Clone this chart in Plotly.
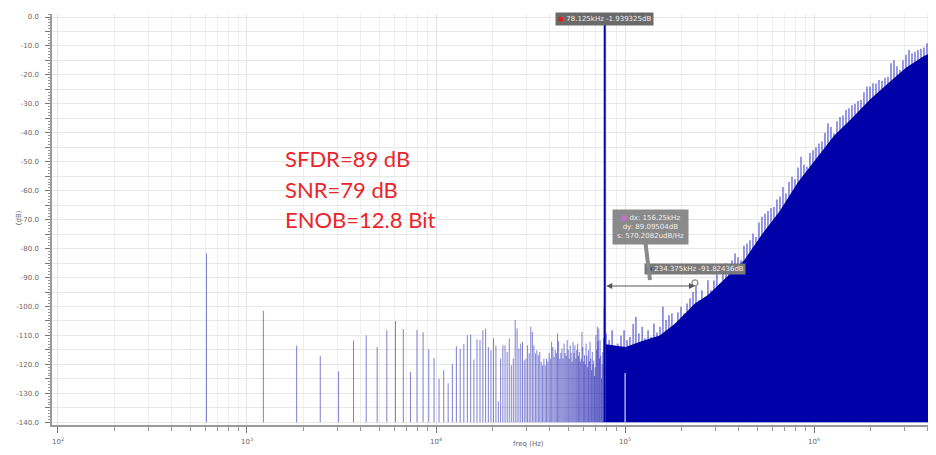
import numpy as np
import plotly.graph_objects as go

# FFT settings: fs = 10 MHz, 16384 points -> bin spacing
BIN_HZ = 10e6 / 16384
FLOOR_DB = -140.0

# bins 1..127 (below the tone), dB
low_bins_db = [
    -81.7, -101.5, -113.5, -117.0, -122.4, -111.8, -110.0, -114.0, -108.2, -105.0,
    -107.8, -122.6, -108.1, -108.9, -114.8, -117.8, -125.0, -122.0, -126.5, -119.9,
    -113.7, -114.6, -113.0, -109.9, -109.7, -118.3, -111.4, -111.6, -108.2, -107.6,
    -114.0, -115.1, -111.0, -113.4, -132.7, -118.0, -113.4, -113.4, -115.7, -111.0,
    -120.3, -118.0, -104.7, -107.6, -114.5, -112.8, -112.2, -118.6, -118.0, -113.4,
    -116.2, -107.0, -108.8, -113.4, -116.2, -115.1, -116.8, -115.7, -119.1, -120.3,
    -118.0, -120.3, -118.0, -119.1, -116.0, -118.0, -112.2, -114.0, -117.4, -115.0,
    -116.0, -109.3, -112.0, -118.0, -116.0, -114.5, -118.0, -112.8, -116.0, -117.0,
    -111.6, -115.0, -118.0, -113.4, -116.0, -119.0, -112.2, -116.0, -113.4, -118.0,
    -115.0, -112.8, -117.0, -115.7, -119.0, -118.0, -108.8, -114.0, -119.0, -116.8,
    -120.0, -112.8, -117.0, -121.0, -115.1, -119.0, -112.2, -118.0, -122.0, -115.7,
    -120.0, -118.6, -124.0, -121.0, -109.9, -115.0, -107.0, -112.0, -107.6, -118.0,
    -111.6, -117.0, -124.9, -120.0, -115.7, -111.0, -100.0,
]
fund_bin = 128
fund_db = -1.939325
h3_khz = 234.375
h3_db = -91.82436

# spikes of the dense noise above the tone (bin index, dB)
hf_spike_bins = [
    130, 135, 140, 145, 150, 156, 162, 168, 174, 181,
    187, 194, 202, 209, 217, 225, 233, 242, 251, 260,
    270, 280, 290, 301, 312, 324, 336, 349, 362, 375,
    389, 403, 418, 434, 450, 467, 484, 502, 521, 540,
    561, 581, 603, 626, 649, 673, 698, 724, 751, 779,
    808, 838, 869, 902, 935, 970, 1006, 1043, 1082, 1123,
    1164, 1208, 1253, 1299, 1348, 1398, 1450, 1504, 1560, 1618,
    1678, 1740, 1805, 1872, 1942, 2014, 2089, 2167, 2248, 2332,
    2418, 2508, 2602, 2699, 2799, 2903, 3011, 3124, 3240, 3360,
    3486, 3615, 3750, 3890, 4034, 4185, 4340, 4502, 4670, 4843,
    5024, 5211, 5405, 5606, 5815, 6031, 6256, 6488, 6730, 6981,
]
hf_spike_db = [
    -109.3, -111.6, -108.2, -114.0, -112.8, -110.0, -108.2, -111.6, -110.5, -106.0,
    -103.6, -109.3, -107.0, -111.0, -108.2, -110.5, -105.9, -109.0, -107.0, -100.0,
    -104.7, -103.0, -102.4, -105.9, -102.0, -100.1, -102.4, -99.0, -97.2, -95.0,
    -93.0, -97.8, -94.4, -96.7, -90.9, -94.4, -91.0, -88.6, -92.1, -87.5,
    -85.1, -87.5, -84.0, -81.7, -83.0, -84.0, -79.0, -78.2, -77.1, -74.8,
    -76.0, -71.0, -69.0, -68.0, -67.0, -66.0, -65.6, -63.0, -62.0, -58.7,
    -61.0, -57.0, -55.2, -56.0, -52.0, -48.3, -51.0, -51.7, -47.0, -46.0,
    -45.0, -43.7, -43.0, -40.0, -36.7, -38.0, -40.2, -36.0, -34.5, -34.0,
    -32.1, -31.5, -30.5, -30.0, -29.0, -28.7, -26.0, -24.1, -24.0, -22.9,
    -23.0, -21.8, -22.0, -21.0, -20.6, -16.0, -14.9, -17.0, -18.3, -14.9,
    -13.0, -11.4, -12.5, -12.0, -11.4, -11.0, -10.5, -9.1, -8.5, -8.0,
]
# solid body of the dense noise (kHz, dB)
hf_body_khz = [79.35, 100.7, 122.1, 152.6, 183.1, 234.4, 274.7, 341.8, 427.2, 531.0,
               659.2, 824.0, 1025, 1276, 1587, 1978, 2460, 3064, 3815, 4272]
hf_body_db = [-113.0, -114.0, -112.0, -110.0, -106.0, -99.0, -96.0, -90.0, -84.0, -75.0,
              -67.0, -57.0, -49.0, -41.0, -35.0, -28.5, -23.0, -17.5, -13.5, -12.0]
# single deep bin inside the dense region
notch_khz = [100.1]
notch_top_db = [-123.0]

DARK = "#0000a8"
LINE = "rgba(0,0,168,0.5)"

fig = go.Figure()


def stems(freqs, levels):
    xs, ys = [], []
    for f, v in zip(freqs, levels):
        xs += [f, f, None]
        ys += [FLOOR_DB, v, None]
    return xs, ys


# individual bins below the tone
xs, ys = stems([k * BIN_HZ for k in range(1, len(low_bins_db) + 1)], low_bins_db)
fig.add_trace(go.Scatter(x=xs, y=ys, mode="lines", line=dict(color=LINE, width=1),
                         hoverinfo="skip", showlegend=False))

# dense region: light spikes, then solid body on top
xs, ys = stems([k * BIN_HZ for k in hf_spike_bins], hf_spike_db)
fig.add_trace(go.Scatter(x=xs, y=ys, mode="lines", line=dict(color="rgba(30,30,195,0.5)", width=1.8),
                         hoverinfo="skip", showlegend=False))
bx = [f * 1e3 for f in hf_body_khz]
fig.add_trace(go.Scatter(x=bx + [bx[-1] * 1.2, bx[-1] * 1.2, bx[0]],
                         y=hf_body_db + [hf_body_db[-1], FLOOR_DB, FLOOR_DB],
                         mode="lines", fill="toself", fillcolor=DARK,
                         line=dict(width=0, color=DARK),
                         hoverinfo="skip", showlegend=False))
for f, v in zip(notch_khz, notch_top_db):
    fig.add_trace(go.Scatter(x=[f * 1e3, f * 1e3], y=[FLOOR_DB, v], mode="lines",
                             line=dict(color="white", width=1), hoverinfo="skip",
                             showlegend=False))

# the tone
f0 = fund_bin * BIN_HZ
fig.add_trace(go.Scatter(x=[f0, f0], y=[FLOOR_DB, fund_db], mode="lines",
                         line=dict(color=DARK, width=2), hoverinfo="skip", showlegend=False))

# marker on the 3rd harmonic
fig.add_trace(go.Scatter(x=[h3_khz * 1e3], y=[h3_db], mode="markers",
                         marker=dict(size=6, color="rgba(0,0,0,0)",
                                     line=dict(color="#888", width=1.2)),
                         hoverinfo="skip", showlegend=False))

tick_font = dict(family="DejaVu Sans", size=7, color="#666")
decades = [2, 3, 4, 5, 6]
x_tickvals = [10 ** d for d in decades]
x_ticktext = [f"10<sup>{d}</sup>" for d in decades]
x_minor = [k * 10 ** d for d in decades for k in range(2, 10)]
y_tickvals = list(range(0, -145, -5))
y_ticktext = [f"{v:.1f}" if v % 10 == 0 else "" for v in y_tickvals]

# page body adds 8px, so the figure is 8px smaller and the margins shifted
fig.update_layout(
    width=928, height=447,
    margin=dict(l=44, r=4, t=6, b=30),
    paper_bgcolor="white", plot_bgcolor="white",
    showlegend=False,
    xaxis=dict(type="log", range=[1.9683, 6.6243], tickvals=x_tickvals, ticktext=x_ticktext,
               showgrid=True, gridcolor="#e4e4e4", gridwidth=1, zeroline=False,
               showline=True, linecolor="#9a9a9a", linewidth=1.5,
               ticks="outside", ticklen=6, tickcolor="#777", tickfont=tick_font,
               ticklabelstandoff=3,
               minor=dict(tickvals=x_minor, showgrid=True, gridcolor="#eeeeee",
                          ticks="outside", ticklen=4, tickcolor="#999")),
    yaxis=dict(range=[-140.93, 1.04], tickvals=y_tickvals, ticktext=y_ticktext,
               showgrid=True, gridcolor="#e8e8e8", zeroline=False,
               showline=True, linecolor="#9a9a9a", linewidth=1.5,
               ticks="outside", ticklen=5, tickcolor="#777", tickfont=tick_font,
               ticklabelstandoff=5,
               minor=dict(dtick=1, ticks="outside", ticklen=2, tickcolor="#999",
                          showgrid=False)),
)

ann_font = dict(family="DejaVu Sans", size=7, color="#f0f0f0")
fig.add_annotation(x=np.log10(f0), y=fund_db, xref="x", yref="y",
                   text='<span style="color:#e02020">●</span> 78.125kHz -1.939325dB',
                   showarrow=False, xanchor="center", yanchor="middle", yshift=4,
                   bgcolor="#6a6a6a", borderpad=2, font=ann_font)
fig.add_annotation(x=np.log10(h3_khz * 1e3), y=h3_db, xref="x", yref="y",
                   text='<span style="color:#2030a0">●</span> 234.375kHz -91.82436dB',
                   showarrow=False, xanchor="center", yanchor="middle", yshift=14,
                   bgcolor="#7a7a7a", borderpad=1, font=ann_font)
# pointer from delta box to the line
fig.add_annotation(x=0.6795, y=0.353, xref="x domain", yref="y domain",
                   ax=0.674, ay=0.45, axref="x domain", ayref="y domain",
                   showarrow=True, arrowhead=0, arrowwidth=4, arrowcolor="#8a8a8a", text="")
fig.add_annotation(x=0.680, y=0.482, xref="paper", yref="paper",
                   text='<span style="color:#c070d0">■</span> dx: 156.25kHz<br>dy: 89.09504dB<br>s: 570.2082udB/Hz',
                   showarrow=False, xanchor="center", yanchor="middle", align="center",
                   bgcolor="#8a8a8a", borderpad=4,
                   font=dict(family="DejaVu Sans", size=7, color="#eee"))
# dx arrow between tone and harmonic
fig.add_annotation(x=np.log10(h3_khz * 1e3), y=h3_db - 1.1, ax=np.log10(f0), ay=h3_db - 1.1,
                   xref="x", yref="y", axref="x", ayref="y", text="",
                   showarrow=True, arrowhead=2, startarrowhead=2, arrowside="end+start",
                   arrowsize=1, arrowwidth=1.2, arrowcolor="#555")

red = dict(family="Lato", size=22, color="#e8262c")
for txt, yy in [("SFDR=89 dB", 0.6496), ("SNR=79 dB", 0.5742), ("ENOB=12.8 Bit", 0.4988)]:
    fig.add_annotation(x=0.2625, y=yy, xref="paper", yref="paper", text=txt,
                       showarrow=False, xanchor="left", yanchor="middle", font=red)

fig.add_annotation(x=-0.045, y=0.504, xref="paper", yref="paper", text="(dB)",
                   textangle=-90, showarrow=False, font=tick_font)
fig.add_annotation(x=0.541, y=-0.061, xref="paper", yref="paper", text="freq (Hz)",
                   showarrow=False, font=tick_font)

fig.write_html("out.html")
